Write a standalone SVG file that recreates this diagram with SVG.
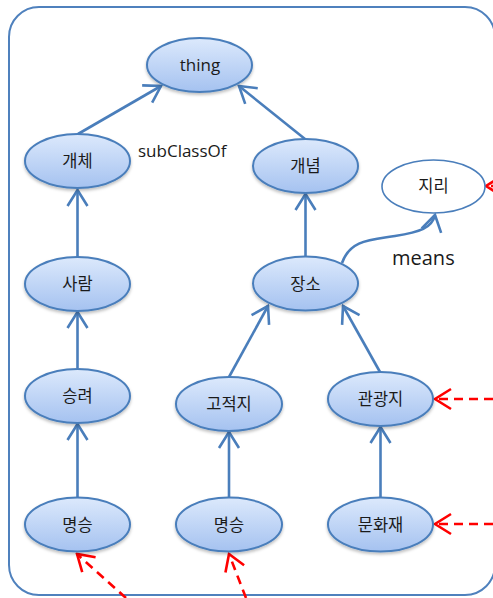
<svg xmlns="http://www.w3.org/2000/svg" width="493" height="598" viewBox="0 0 493 598">
  <style>
    .node ellipse { fill: url(#nodeFill); stroke: #4a7ebb; stroke-width: 2; filter: url(#shadow); }
    .plain ellipse { fill: #ffffff; stroke: #4a7ebb; stroke-width: 1.6; }
    text { font-family: "Noto Sans CJK KR", "Noto Sans", sans-serif; font-size: 16.5px; fill: #1a1a1a; text-anchor: middle; }
    .latin { font-family: "Open Sans", "Noto Sans", sans-serif; font-size: 17px; }
    .lbl { text-anchor: start; }
    .sub { fill: none; stroke: #4a7ebb; stroke-width: 2.6; marker-end: url(#openBlue); }
    .inst { fill: none; stroke: #ff0000; stroke-width: 2.6; stroke-dasharray: 9 6; marker-end: url(#openRed); }
  </style>
  <defs>
    <linearGradient id="nodeFill" x1="0" y1="0" x2="0" y2="1">
      <stop offset="0" stop-color="#dce9fc"/>
      <stop offset="1" stop-color="#a5c2f0"/>
    </linearGradient>
    <filter id="shadow" x="-20%" y="-20%" width="140%" height="150%">
      <feDropShadow dx="0" dy="2" stdDeviation="1.5" flood-color="#000" flood-opacity="0.25"/>
    </filter>
    <marker id="openBlue" markerUnits="userSpaceOnUse" viewBox="-20 -12 22 24" refX="0" refY="0" markerWidth="22" markerHeight="24" orient="auto">
      <path d="M-16,-10 L0,0 L-16,10" fill="none" stroke="#4a7ebb" stroke-width="2.6" stroke-dasharray="none"/>
    </marker>
    <marker id="openRed" markerUnits="userSpaceOnUse" viewBox="-20 -12 22 24" refX="0" refY="0" markerWidth="22" markerHeight="24" orient="auto">
      <path d="M-16,-10 L0,0 L-16,10" fill="none" stroke="#ff0000" stroke-width="2.6" stroke-dasharray="none"/>
    </marker>
  </defs>

  <!-- frame -->
  <rect x="9" y="7" width="486" height="588" rx="30" ry="30" fill="none" stroke="#4f81bd" stroke-width="2"/>

  <!-- connectors -->
  <g id="connectors">
    <line class="sub" x1="78" y1="134" x2="161" y2="86"/>
    <line class="sub" x1="305" y1="139" x2="239" y2="86"/>
    <line class="sub" x1="77.5" y1="257" x2="77.5" y2="190"/>
    <line class="sub" x1="305.5" y1="257" x2="305.5" y2="194"/>
    <line class="sub" x1="77.5" y1="368" x2="77.5" y2="312"/>
    <line class="sub" x1="229" y1="377" x2="268" y2="306"/>
    <line class="sub" x1="380" y1="372" x2="343" y2="306"/>
    <line class="sub" x1="77.5" y1="497" x2="77.5" y2="424"/>
    <line class="sub" x1="229" y1="497" x2="229" y2="432"/>
    <line class="sub" x1="380.5" y1="498" x2="380.5" y2="427"/>
    <path class="sub" d="M342,263 C350,240 370,240 395,236 C420,232 432,228 435,215"/>
    <line class="inst" x1="500" y1="186" x2="486" y2="186"/>
    <line class="inst" x1="493" y1="399" x2="435" y2="399"/>
    <line class="inst" x1="493" y1="524" x2="435" y2="524"/>
    <line class="inst" x1="126" y1="598" x2="77" y2="554"/>
    <line class="inst" x1="246" y1="598" x2="229" y2="554"/>
  </g>

  <text class="lbl latin" x="138" y="157">subClassOf</text>
  <text class="lbl latin" x="392" y="265" style="font-size:20px">means</text>

  <!-- nodes -->
  <g id="thing" class="node"><ellipse cx="199.5" cy="65" rx="52.5" ry="27"/><text class="latin" x="200" y="71">thing</text></g>
  <g id="gaeche" class="node"><ellipse cx="77.5" cy="161" rx="52.5" ry="27"/><text x="77.5" y="167">개체</text></g>
  <g id="gaenyeom" class="node"><ellipse cx="305.5" cy="166" rx="52.5" ry="27"/><text x="305.5" y="172">개념</text></g>
  <g id="jiri" class="plain"><ellipse cx="433.5" cy="186.5" rx="51.5" ry="26.5"/><text x="433.5" y="192">지리</text></g>
  <g id="saram" class="node"><ellipse cx="77.5" cy="284" rx="52.5" ry="27"/><text x="77.5" y="290">사람</text></g>
  <g id="jangso" class="node"><ellipse cx="305.5" cy="283.5" rx="52.5" ry="27"/><text x="305.5" y="289.5">장소</text></g>
  <g id="seungryeo" class="node"><ellipse cx="77.5" cy="396" rx="52.5" ry="27"/><text x="77.5" y="402">승려</text></g>
  <g id="gojeokji" class="node"><ellipse cx="229" cy="404" rx="53" ry="27"/><text x="229" y="410">고적지</text></g>
  <g id="gwangwangji" class="node"><ellipse cx="380.5" cy="399" rx="52.5" ry="27"/><text x="380.5" y="405">관광지</text></g>
  <g id="myeongseung1" class="node"><ellipse cx="77.5" cy="524.5" rx="52.5" ry="27"/><text x="77.5" y="530.5">명승</text></g>
  <g id="myeongseung2" class="node"><ellipse cx="229" cy="524.5" rx="53" ry="27"/><text x="229" y="530.5">명승</text></g>
  <g id="munhwajae" class="node"><ellipse cx="380.5" cy="524.5" rx="52.5" ry="27"/><text x="380.5" y="530.5">문화재</text></g>
</svg>
